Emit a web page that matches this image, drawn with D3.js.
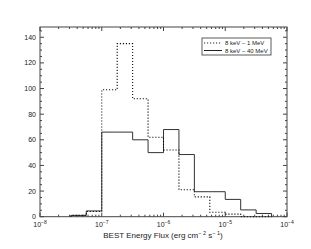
<!DOCTYPE html>
<html>
<head>
<meta charset="utf-8">
<script src="https://cdn.jsdelivr.net/npm/d3@7"></script>
<style>
  body { margin: 0; background: #fff; }
  svg text { font-family: "Liberation Sans", Arial, sans-serif; fill: #222; }
</style>
</head>
<body>
<svg id="chart" width="311" height="249"></svg>
<script>
// bin lower edges as log10 of flux, quarter-decade bins
const binStartExp = [-7.5, -7.25, -7, -6.75, -6.5, -6.25, -6, -5.75, -5.5, -5.25, -5, -4.75, -4.5];
const binWidthExp = 0.25;
// counts per bin
const countsMeV1 = [1, 4, 99, 135, 92, 62, 52, 21, 15.5, 3.5, 2, 0, 0];
const countsMeV40 = [1, 4.5, 66, 66, 60, 50, 68, 48.5, 19.5, 19.5, 13.5, 5.3, 2.5];
const seriesNames = ["8 keV \u2013  1 MeV", "8 keV \u2013  40 MeV"];
const yMajorTicks = [0, 20, 40, 60, 80, 100, 120, 140];
const xDecades = [-8, -7, -6, -5, -4];

const svg = d3.select("#chart");
const pLeft = 40, pRight = 287, pTop = 27, pBottom = 216.7;

const x = d3.scaleLog().domain([1e-8, 1e-4]).range([pLeft, pRight]);
const y = d3.scaleLinear().domain([0, 148]).range([pBottom, pTop]);

// frame
svg.append("rect")
    .attr("x", pLeft).attr("y", pTop)
    .attr("width", pRight - pLeft).attr("height", pBottom - pTop)
    .attr("fill", "none").attr("stroke", "#444").attr("stroke-width", 1);

// y ticks (left and right, inward)
const yMinor = d3.range(0, 146, 5);
yMinor.forEach(v => {
    const major = v % 20 === 0;
    const len = major ? 4 : 2;
    svg.append("line").attr("x1", pLeft).attr("x2", pLeft + len)
        .attr("y1", y(v)).attr("y2", y(v)).attr("stroke", "#444");
    svg.append("line").attr("x1", pRight).attr("x2", pRight - len)
        .attr("y1", y(v)).attr("y2", y(v)).attr("stroke", "#444");
});
svg.selectAll(".ylab")
    .data(yMajorTicks)
    .enter()
    .append("text")
    .attr("class", "ylab")
    .attr("x", pLeft - 4)
    .attr("y", d => y(d) + 2.5)
    .attr("text-anchor", "end")
    .attr("font-size", "7px")
    .text(d => d);

// x ticks (bottom and top, inward), log minors
const xTicks = [];
xDecades.forEach(e => {
    for (let m = 1; m <= 9; m++) {
        const v = m * Math.pow(10, e);
        if (v <= 1e-4 * 1.0001) xTicks.push({ v: v, major: m === 1 });
    }
});
xTicks.forEach(t => {
    const len = t.major ? 4 : 2;
    svg.append("line").attr("x1", x(t.v)).attr("x2", x(t.v))
        .attr("y1", pBottom).attr("y2", pBottom - len).attr("stroke", "#444");
    svg.append("line").attr("x1", x(t.v)).attr("x2", x(t.v))
        .attr("y1", pTop).attr("y2", pTop + len).attr("stroke", "#444");
});
const xl = svg.selectAll(".xlab")
    .data(xDecades)
    .enter()
    .append("text")
    .attr("class", "xlab")
    .attr("x", d => x(Math.pow(10, d)))
    .attr("y", pBottom + 10)
    .attr("text-anchor", "middle")
    .attr("font-size", "7px");
xl.append("tspan").text("10");
xl.append("tspan").attr("dy", -3).attr("font-size", "5px").text(d => "\u2212" + (-d));

// axis title
const title = svg.append("text")
    .attr("x", 163).attr("y", 238)
    .attr("text-anchor", "middle")
    .attr("font-size", "8px");
title.append("tspan").text("BEST Energy Flux (erg cm");
title.append("tspan").attr("dy", -3).attr("font-size", "5.5px").text("\u2212 2");
title.append("tspan").attr("dy", 3).text(" s");
title.append("tspan").attr("dy", -3).attr("font-size", "5.5px").text("\u2212 1");
title.append("tspan").attr("dy", 3).text(")");

// histograms
const stepLine = d3.line()
    .x(d => x(Math.pow(10, d[0])))
    .y(d => y(d[1]))
    .curve(d3.curveStepAfter);

const histPoints = counts => {
    const pts = [[binStartExp[0], 0]];
    binStartExp.forEach((e, i) => pts.push([e, counts[i]]));
    pts.push([binStartExp[binStartExp.length - 1] + binWidthExp, 0]);
    return pts;
};

svg.append("path")
    .attr("d", stepLine(histPoints(countsMeV40)))
    .attr("fill", "none").attr("stroke", "#333").attr("stroke-width", 1);

svg.append("path")
    .attr("d", stepLine(histPoints(countsMeV1)))
    .attr("fill", "none").attr("stroke", "#111").attr("stroke-width", 1.1)
    .attr("stroke-dasharray", "1.2,1.8");

// legend
const lg = svg.append("g");
lg.append("rect")
    .attr("x", 202).attr("y", 38).attr("width", 69).attr("height", 17)
    .attr("fill", "#fff").attr("stroke", "#333").attr("stroke-width", 0.8);
const styles = [{ dash: "1.2,1.8" }, { dash: null }];
seriesNames.forEach((name, i) => {
    const ly = 43 + i * 7.5;
    const ln = lg.append("line")
        .attr("x1", 204).attr("x2", 222).attr("y1", ly).attr("y2", ly)
        .attr("stroke", "#222").attr("stroke-width", 1);
    if (styles[i].dash) ln.attr("stroke-dasharray", styles[i].dash);
    lg.append("text")
        .attr("x", 225).attr("y", ly + 2.2)
        .attr("font-size", "6px")
        .text(name);
});
</script>
</body>
</html>
